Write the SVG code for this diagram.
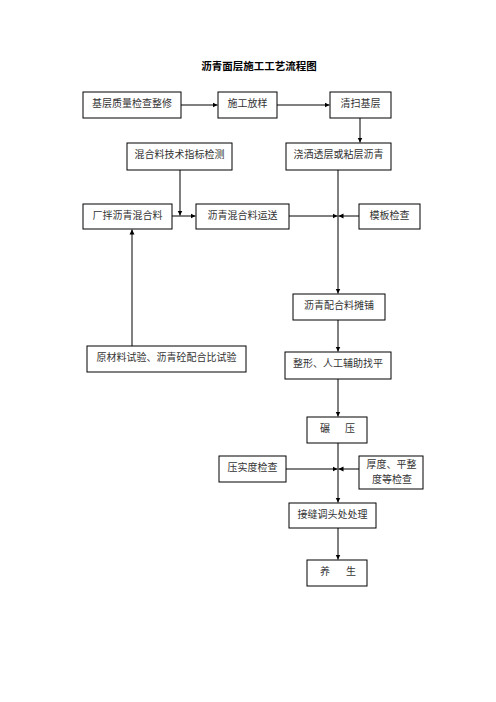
<svg xmlns="http://www.w3.org/2000/svg" width="496" height="702" viewBox="0 0 496 702">
<style>
rect.b{fill:#fff;stroke:#000;stroke-width:1}
text{font-family:"Liberation Serif","Noto Sans CJK SC",serif;font-size:10px;fill:#333;text-anchor:middle}
.t{font-weight:bold;fill:#000;font-size:10.5px}
#connectors line{stroke:#000;stroke-width:1}
</style>
<defs>
<marker id="a" markerWidth="6" markerHeight="6" refX="5" refY="3" orient="auto" markerUnits="userSpaceOnUse">
<path d="M0,0.5 L5,3 L0,5.5 Z" fill="#000"/>
</marker>
</defs>
<rect width="496" height="702" fill="#fff"/>
<text class="t" x="259" y="70">沥青面层施工工艺流程图</text>
<g id="connectors">
<line x1="181" y1="105" x2="217.5" y2="105" marker-end="url(#a)"/>
<line x1="277" y1="105" x2="329.5" y2="105" marker-end="url(#a)"/>
<line x1="360" y1="118" x2="360" y2="142.5" marker-end="url(#a)"/>
<line x1="180" y1="170" x2="180" y2="215.5" marker-end="url(#a)"/>
<line x1="172" y1="216" x2="195.5" y2="216" marker-end="url(#a)"/>
<line x1="289" y1="216" x2="337.5" y2="216" marker-end="url(#a)"/>
<line x1="359" y1="216" x2="338.5" y2="216" marker-end="url(#a)"/>
<line x1="338" y1="170" x2="338" y2="293.5" marker-end="url(#a)"/>
<line x1="132" y1="346" x2="132" y2="229.5" marker-end="url(#a)"/>
<line x1="338" y1="320" x2="338" y2="351.5" marker-end="url(#a)"/>
<line x1="338" y1="379" x2="338" y2="416.5" marker-end="url(#a)"/>
<line x1="338" y1="443" x2="338" y2="502.5" marker-end="url(#a)"/>
<line x1="286" y1="469" x2="337.5" y2="469" marker-end="url(#a)"/>
<line x1="359" y1="469" x2="338.5" y2="469" marker-end="url(#a)"/>
<line x1="338" y1="528" x2="338" y2="559.5" marker-end="url(#a)"/>
</g>
<g id="n1"><rect class="b" x="83" y="92" width="98" height="26"/><text x="132" y="107">基层质量检查整修</text></g>
<g id="n2"><rect class="b" x="218" y="92" width="59" height="26"/><text x="247.5" y="107">施工放样</text></g>
<g id="n3"><rect class="b" x="330" y="92" width="61" height="26"/><text x="360.5" y="107">清扫基层</text></g>
<g id="n4"><rect class="b" x="127" y="143" width="105" height="27"/><text x="179.5" y="158">混合料技术指标检测</text></g>
<g id="n5"><rect class="b" x="286" y="143" width="105" height="27"/><text x="338.5" y="158">浇洒透层或粘层沥青</text></g>
<g id="n6"><rect class="b" x="83" y="204" width="89" height="25"/><text x="127.5" y="219">厂拌沥青混合料</text></g>
<g id="n7"><rect class="b" x="196" y="204" width="93" height="25"/><text x="242.5" y="219">沥青混合料运送</text></g>
<g id="n8"><rect class="b" x="359" y="204" width="61" height="25"/><text x="389.5" y="219">模板检查</text></g>
<g id="n9"><rect class="b" x="293" y="294" width="92" height="26"/><text x="339" y="309">沥青配合料摊铺</text></g>
<g id="n10"><rect class="b" x="87" y="346" width="159" height="26"/><text x="166.5" y="361">原材料试验、沥青砼配合比试验</text></g>
<g id="n11"><rect class="b" x="285" y="352" width="106" height="27"/><text x="338" y="367">整形、人工辅助找平</text></g>
<g id="n12"><rect class="b" x="307" y="417" width="60" height="26"/><text x="325" y="432">碾</text><text x="350" y="432">压</text></g>
<g id="n13"><rect class="b" x="219" y="456" width="67" height="26"/><text x="252.5" y="471">压实度检查</text></g>
<g id="n14"><rect class="b" x="359" y="456" width="64" height="33"/><text x="391.5" y="468">厚度、平整</text><text x="392" y="483">度等检查</text></g>
<g id="n15"><rect class="b" x="289" y="503" width="87" height="25"/><text x="332.5" y="518">接缝调头处处理</text></g>
<g id="n16"><rect class="b" x="307" y="560" width="60" height="26"/><text x="325" y="575">养</text><text x="351" y="575">生</text></g>
</svg>
